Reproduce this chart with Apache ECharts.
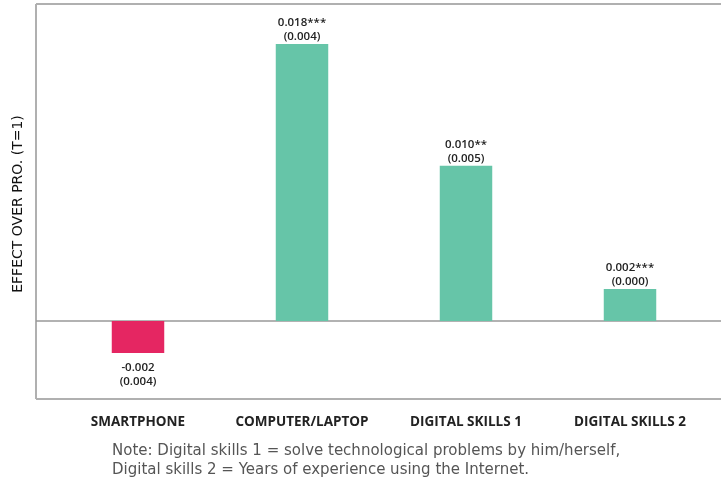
<!DOCTYPE html>
<html>
<head>
<meta charset="utf-8">
<script src="https://cdn.jsdelivr.net/npm/echarts@6/dist/echarts.min.js"></script>
<style>
  html, body { margin: 0; padding: 0; background: #fff; }
  #chart { width: 721px; height: 480px; }
</style>
</head>
<body>
<div id="chart"></div>
<script>
// 数据
const categories = ['SMARTPHONE', 'COMPUTER/LAPTOP', 'DIGITAL SKILLS 1', 'DIGITAL SKILLS 2'];
const effects = [-0.002, 0.0173, 0.0097, 0.002];
const estLabels = ['-0.002', '0.018***', '0.010**', '0.002***'];
const seLabels = ['(0.004)', '(0.004)', '(0.005)', '(0.000)'];
const noteLines = [
  'Note: Digital skills 1 = solve technological problems by him/herself,',
  'Digital skills 2 = Years of experience using the Internet.'
];

const yMin = -0.004875;
const yMax = 0.0198;

const chart = echarts.init(document.getElementById('chart'));

const option = {
  animation: false,
  grid: { left: 56, right: 9, top: 4, bottom: 81 },
  xAxis: {
    type: 'category',
    data: categories,
    position: 'bottom',
    axisLine: { show: false },
    axisTick: { show: false },
    axisLabel: {
      interval: 0,
      margin: 16,
      fontFamily: 'Open Sans',
      fontWeight: 'bold',
      fontSize: 13.5,
      color: '#222'
    }
  },
  yAxis: {
    type: 'value',
    min: yMin,
    max: yMax,
    axisLine: { show: false },
    axisTick: { show: false },
    axisLabel: { show: false },
    splitLine: { show: false }
  },
  series: [{
    type: 'bar',
    barWidth: '32%',
    data: effects.map((v, i) => ({
      value: v,
      itemStyle: { color: v < 0 ? '#e52662' : '#66c5a8' },
      label: {
        show: true,
        position: v < 0 ? 'bottom' : 'top',
        distance: v < 0 ? 8 : 0,
        formatter: estLabels[i] + '\n' + seLabels[i],
        fontFamily: 'Open Sans',
        fontWeight: 600,
        fontSize: 11.5,
        lineHeight: 14,
        color: '#222'
      }
    }))
  }]
};
chart.setOption(option);

// 边框和零线：位置取自坐标轴
const y0 = chart.convertToPixel({ yAxisIndex: 0 }, 0);
const yTop = chart.convertToPixel({ yAxisIndex: 0 }, yMax);
const yBot = chart.convertToPixel({ yAxisIndex: 0 }, yMin);
const frameStyle = { stroke: '#b0b0b0', lineWidth: 2 };

chart.setOption({
  graphic: [
    { type: 'line', shape: { x1: 36, y1: yTop, x2: 721, y2: yTop }, style: frameStyle, z: 1 },
    { type: 'line', shape: { x1: 36, y1: yTop, x2: 36, y2: yBot }, style: frameStyle, z: 1 },
    { type: 'line', shape: { x1: 36, y1: yBot, x2: 721, y2: yBot }, style: frameStyle, z: 1 },
    { type: 'line', shape: { x1: 36, y1: y0, x2: 721, y2: y0 }, style: { stroke: '#999', lineWidth: 1.5 }, z: 1 },
    {
      type: 'text',
      x: 18,
      y: 204,
      rotation: Math.PI / 2,
      style: {
        text: 'EFFECT OVER PRO. (T=1)',
        font: '14px "DejaVu Sans"',
        fill: '#111',
        align: 'center',
        verticalAlign: 'middle'
      }
    },
    {
      type: 'text',
      left: 112,
      top: 442,
      style: {
        text: noteLines.join('\n'),
        font: '15px "DejaVu Sans"',
        lineHeight: 19,
        fill: '#555'
      }
    }
  ]
});
</script>
</body>
</html>
